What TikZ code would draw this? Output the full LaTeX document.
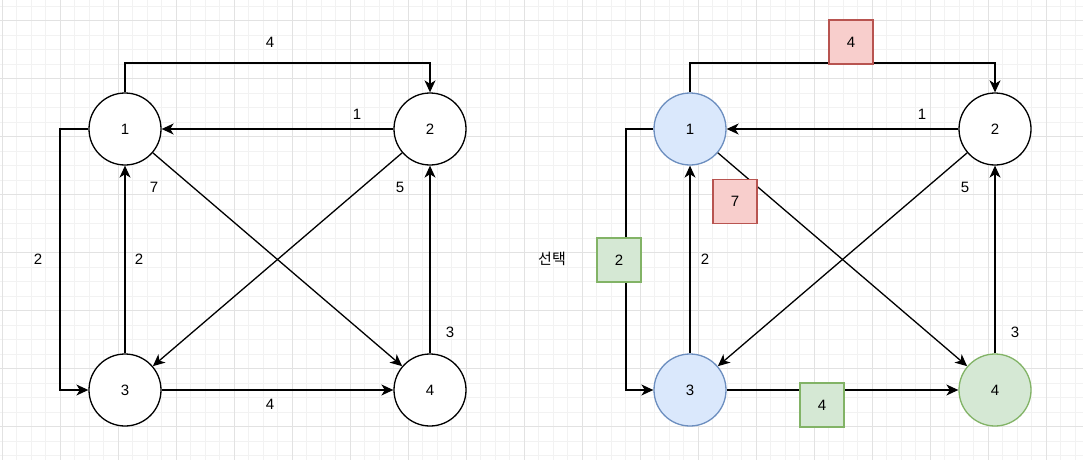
\documentclass[tikz,border=0pt]{standalone}
\usepackage{fontspec}
\setmainfont{Liberation Sans}
\newfontfamily\krfont{Noto Sans CJK KR}
\usetikzlibrary{arrows.meta}
\definecolor{gminor}{HTML}{F2F2F2}
\definecolor{gmajor}{HTML}{E2E2E2}
\definecolor{bluefill}{HTML}{DAE8FC}
\definecolor{bluedraw}{HTML}{6C8EBF}
\definecolor{greenfill}{HTML}{D5E8D4}
\definecolor{greendraw}{HTML}{82B366}
\definecolor{redfill}{HTML}{F8CECC}
\definecolor{reddraw}{HTML}{B85450}
\tikzset{
  vtx/.style={circle, draw=black, line width=1.3pt, minimum size=72pt, inner sep=0pt, fill=white},
  bluev/.style={vtx, fill=bluefill, draw=bluedraw},
  greenv/.style={vtx, fill=greenfill, draw=greendraw},
  wbox/.style={rectangle, minimum size=44pt, inner sep=0pt, line width=1.3pt},
  redbox/.style={wbox, fill=redfill, draw=reddraw},
  greenbox/.style={wbox, fill=greenfill, draw=greendraw},
  edge/.style={line width=1.3pt, -{Stealth[length=12pt,width=11pt,inset=3.5pt]}},
  lbl/.style={inner sep=0pt}
}
\begin{document}
\begin{tikzpicture}[x=1pt,y=-1pt,font=\fontsize{15}{17}\selectfont]
\useasboundingbox (0,0) rectangle (1083,460);
\fill[white] (0,0) rectangle (1083,460);
% grid
\foreach \i in {0,...,75} {
  \pgfmathsetmacro{\gx}{2.3+14.5*\i}
  \draw[gminor, line width=0.8pt] (\gx,0) -- (\gx,460);
}
\foreach \i in {0,...,32} {
  \pgfmathsetmacro{\gy}{6.2+14.5*\i}
  \draw[gminor, line width=0.8pt] (0,\gy) -- (1083,\gy);
}
\foreach \i in {0,...,18} {
  \pgfmathsetmacro{\gx}{2.3+58*\i}
  \draw[gmajor, line width=0.8pt] (\gx,0) -- (\gx,460);
}
\foreach \i in {0,...,8} {
  \pgfmathsetmacro{\gy}{20.7+58*\i}
  \draw[gmajor, line width=0.8pt] (0,\gy) -- (1083,\gy);
}

% ---------- left graph ----------
\node[vtx] (a1) at (125,129) {1};
\node[vtx] (a2) at (430,129) {2};
\node[vtx] (a3) at (125,390) {3};
\node[vtx] (a4) at (430,390) {4};

\draw[edge] (a1.north) |- (430,63) -- (a2.north);
\draw[edge] (a2.west) -- (a1.east);
\draw[edge] (a1.west) -- (60,129) |- (a3.west);
\draw[edge] (a3.north) -- (a1.south);
\draw[edge] (a1) -- (a4);
\draw[edge] (a2) -- (a3);
\draw[edge] (a4.north) -- (a2.south);
\draw[edge] (a3.east) -- (a4.west);

\node[lbl] (la1) at (270,42) {4};
\node[lbl] (la2) at (357,114) {1};
\node[lbl] (la3) at (38,259) {2};
\node[lbl] (la4) at (139,259) {2};
\node[lbl] (la5) at (154,187) {7};
\node[lbl] (la6) at (400,187) {5};
\node[lbl] (la7) at (450,332) {3};
\node[lbl] (la8) at (270,404) {4};

% ---------- right graph ----------
\node[bluev] (b1) at (690,129) {1};
\node[vtx] (b2) at (995,129) {2};
\node[bluev] (b3) at (690,390) {3};
\node[greenv] (b4) at (995,390) {4};

\draw[edge] (b1.north) |- (995,63) -- (b2.north);
\draw[edge] (b2.west) -- (b1.east);
\draw[edge] (b1.west) -- (626,129) |- (b3.west);
\draw[edge] (b3.north) -- (b1.south);
\draw[edge] (b1) -- (b4);
\draw[edge] (b2) -- (b3);
\draw[edge] (b4.north) -- (b2.south);
\draw[edge] (b3.east) -- (b4.west);

\node[redbox] (r1) at (851,42) {4};
\node[redbox] (r2) at (735,201.5) {7};
\node[greenbox] (g1) at (619,260) {2};
\node[greenbox] (g2) at (822,405) {4};

\node[lbl] (lb2) at (922,114) {1};
\node[lbl] (lb4) at (705,259) {2};
\node[lbl] (lb6) at (965,187) {5};
\node[lbl] (lb7) at (1015,332) {3};
\node[lbl, font=\krfont\fontsize{15}{17}\selectfont] (sel) at (552,259) {선택};
\end{tikzpicture}
\end{document}
